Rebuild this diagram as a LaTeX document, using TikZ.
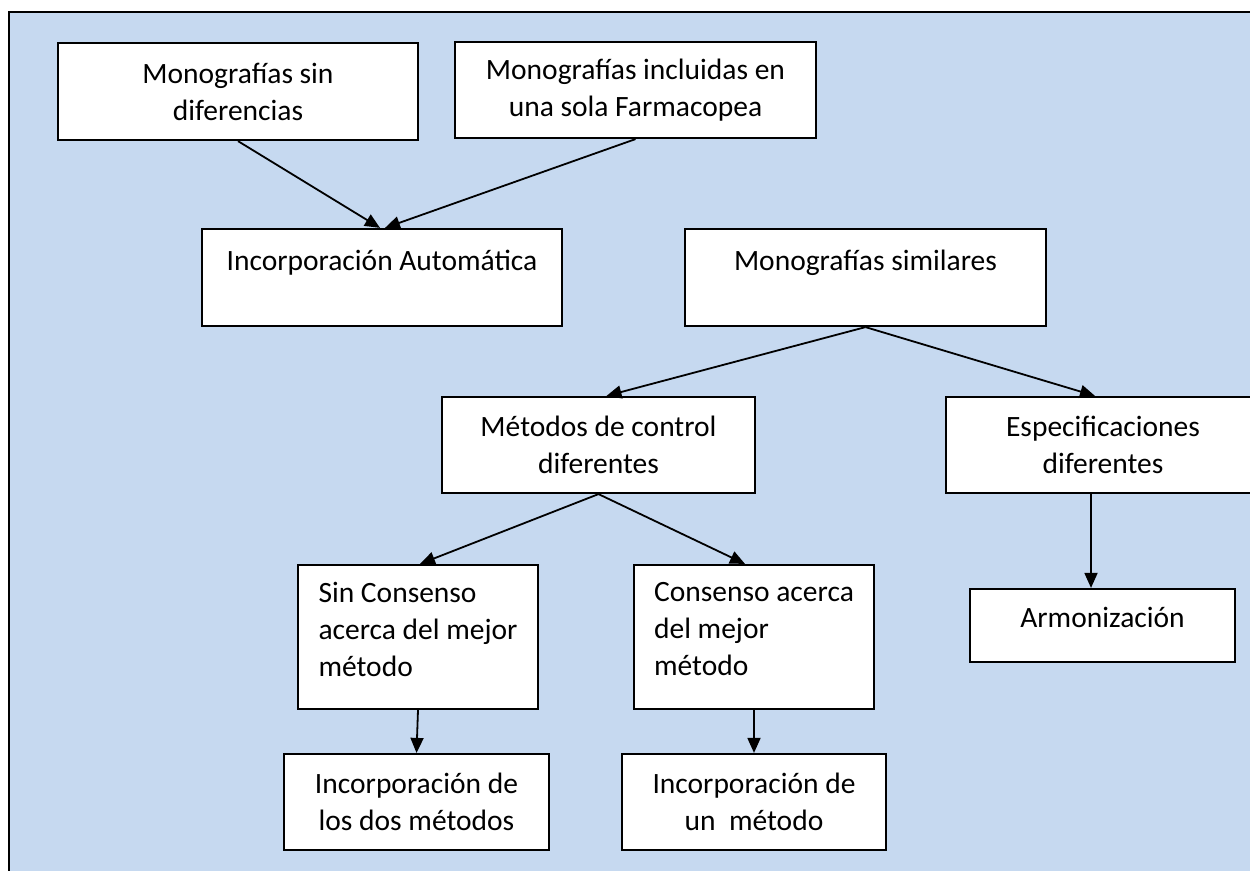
\documentclass[tikz,border=0pt]{standalone}
\usepackage{fontspec}
\setmainfont{Carlito}
\usetikzlibrary{arrows.meta}
\definecolor{bgblue}{RGB}{198,217,240}
\begin{document}
\begin{tikzpicture}[x=1pt,y=-1pt,
  box/.style={draw=black, fill=white, line width=2.2pt, rectangle, inner sep=0pt,
    font=\fontsize{29.5}{37}\selectfont},
  cbox/.style={box, align=center},
  lbox/.style={box, align=left},
  arr/.style={line width=1.8pt, -{Triangle[length=15pt,width=13pt]}}]
\useasboundingbox (0,0) rectangle (1250,870);
\clip (0,0) rectangle (1250,870);
\draw[fill=bgblue, line width=2pt] (9,12) rectangle (1275,895);

\node[cbox, minimum width=360pt, minimum height=97pt] (m1) at (238,91.5) {Monografías sin\\diferencias};
\node[cbox, minimum width=361pt, minimum height=96pt] (m2) at (635.5,90) {Monografías incluidas en\\una sola Farmacopea};
\node[cbox, minimum width=360pt, minimum height=97pt] (ia) at (382,277.5) {Incorporación Automática\\[-14pt]\strut};
\node[cbox, minimum width=361pt, minimum height=97pt] (ms) at (865.5,277.5) {Monografías similares\\[-14pt]\strut};
\node[cbox, minimum width=313pt, minimum height=96pt] (mc) at (598.5,445) {Métodos de control\\diferentes};
\node[cbox, minimum width=314pt, minimum height=96pt] (es) at (1103,445) {Especificaciones\\diferentes};
\node[cbox, minimum width=265pt, minimum height=73pt] (ar) at (1102.5,625.5) {Armonización\\[-32pt]\strut};
\node[lbox, minimum width=240pt, minimum height=144pt] (sc) at (418,637) {Sin Consenso\\acerca del mejor\\método\\[-32pt]\strut};
\node[lbox, minimum width=240pt, minimum height=144pt] (co) at (754,637) {Consenso acerca\\del mejor\\método\\[-32pt]\strut};
\node[cbox, minimum width=265pt, minimum height=96pt] (id) at (416.5,802) {Incorporación de\\los dos métodos};
\node[cbox, minimum width=264pt, minimum height=96pt] (iu) at (754,802) {Incorporación de\\un\ \ método};

\draw[arr] (m1.south) -- ([xshift=-2pt]ia.north);
\draw[arr] (m2.south) -- ([xshift=3pt]ia.north);
\draw[arr] (ms.south) -- ([xshift=8pt]mc.north);
\draw[arr] (ms.south) -- ([xshift=-8pt]es.north);
\draw[arr] (mc.south) -- ([xshift=2pt]sc.north);
\draw[arr] (mc.south) -- ([xshift=-9pt]co.north);
\draw[arr] ([xshift=-12pt]es.south) -- ([xshift=-11.5pt]ar.north);
\draw[arr] (sc.south) -- (id.north);
\draw[arr] (co.south) -- (iu.north);
\end{tikzpicture}
\end{document}
